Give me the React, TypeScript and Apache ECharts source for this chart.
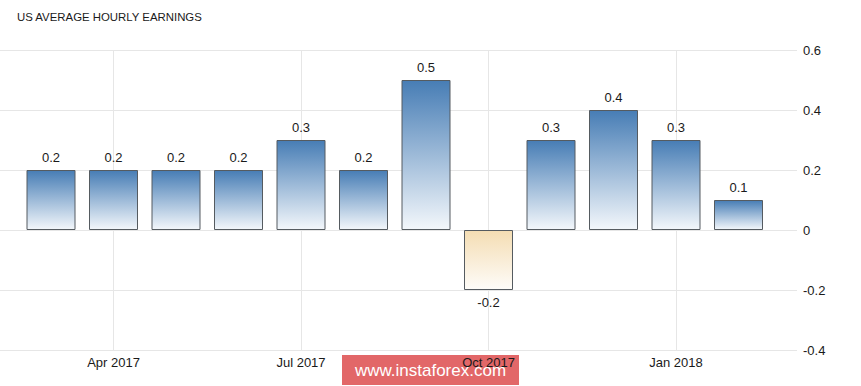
import React, { useEffect, useRef } from "react";
import * as echarts from "echarts";

const categories = [
  "Mar 2017", "Apr 2017", "May 2017", "Jun 2017", "Jul 2017", "Aug 2017",
  "Sep 2017", "Oct 2017", "Nov 2017", "Dec 2017", "Jan 2018", "Feb 2018",
];
const values = [0.2, 0.2, 0.2, 0.2, 0.3, 0.2, 0.5, -0.2, 0.3, 0.4, 0.3, 0.1];
const labeledCategories = ["Apr 2017", "Jul 2017", "Oct 2017", "Jan 2018"];
const yMin = -0.4;
const yMax = 0.6;
const yInterval = 0.2;
const titleText = "US AVERAGE HOURLY EARNINGS";
const watermarkText = "www.instaforex.com";

const FONT = "'Liberation Sans', Arial, sans-serif";

export default function App() {
  const ref = useRef<HTMLDivElement>(null);

  useEffect(() => {
    if (!ref.current) return;
    const chart = echarts.init(ref.current, undefined, { renderer: "svg" });

    const posGrad = new echarts.graphic.LinearGradient(0, 0, 0, 1, [
      { offset: 0, color: "#477db5" },
      { offset: 1, color: "#f3f7fb" },
    ]);
    const negGrad = new echarts.graphic.LinearGradient(0, 0, 0, 1, [
      { offset: 0, color: "#f4ddb3" },
      { offset: 1, color: "#fefcf9" },
    ]);

    const isLabeled = (i: number) => labeledCategories.indexOf(categories[i]) >= 0;

    chart.setOption({
      animation: false,
      backgroundColor: "#ffffff",
      textStyle: { fontFamily: FONT },
      title: {
        text: titleText,
        left: 12,
        top: 6,
        textStyle: { fontFamily: FONT, fontSize: 11.4, fontWeight: "normal", color: "#1a1a1a" },
      },
      grid: [
        { left: 19.75, right: 91.25, top: 50, bottom: 36 },
        { left: 0, right: 64, top: 50, bottom: 36 },
      ],
      xAxis: [
        {
          type: "category",
          gridIndex: 0,
          data: categories,
          boundaryGap: true,
          axisLine: { show: false },
          axisTick: {
            show: true,
            alignWithLabel: true,
            interval: (i: number) => isLabeled(i),
            length: 7,
            lineStyle: { color: "#e6e6e6" },
          },
          splitLine: {
            show: true,
            alignWithLabel: true,
            interval: (i: number) => isLabeled(i),
            lineStyle: { color: "#e6e6e6", width: 1 },
          },
          axisLabel: {
            interval: (i: number) => isLabeled(i),
            color: "#1a1a1a",
            fontSize: 13,
            fontFamily: FONT,
            margin: 6,
          },
        },
        { type: "value", gridIndex: 1, show: false, min: 0, max: 1 },
      ],
      yAxis: [
        { type: "value", gridIndex: 0, show: false, min: yMin, max: yMax, interval: yInterval },
        {
          type: "value",
          gridIndex: 1,
          position: "right",
          min: yMin,
          max: yMax,
          interval: yInterval,
          axisLine: { show: false },
          axisTick: { show: false },
          splitLine: { show: true, lineStyle: { color: "#e6e6e6", width: 1 } },
          axisLabel: {
            color: "#1a1a1a",
            fontSize: 13,
            fontFamily: FONT,
            margin: 6,
            formatter: (v: number) => (Math.abs(v) < 1e-9 ? "0" : v.toFixed(1)),
          },
        },
      ],
      series: [
        {
          type: "bar",
          xAxisIndex: 0,
          yAxisIndex: 0,
          barWidth: 49,
          data: values.map((v) => ({
            value: v,
            itemStyle: {
              color: v >= 0 ? posGrad : negGrad,
              borderColor: "#555b60",
              borderWidth: 1,
            },
            label: { position: v >= 0 ? "top" : "bottom" },
          })),
          label: {
            show: true,
            distance: 6,
            color: "#1a1a1a",
            fontSize: 13,
            fontFamily: FONT,
            formatter: (p: any) => Number(p.value).toFixed(1),
          },
        },
      ],
      graphic: [
        {
          type: "group",
          left: 342,
          top: 355,
          z: 100,
          children: [
            {
              type: "rect",
              shape: { x: 0, y: 0, width: 177, height: 30 },
              style: { fill: "rgba(218, 60, 62, 0.78)" },
            },
            {
              type: "text",
              x: 88.5,
              y: 15,
              style: {
                text: watermarkText,
                fill: "#ffffff",
                font: `17px ${FONT}`,
                align: "center",
                verticalAlign: "middle",
              },
            },
          ],
        },
      ],
    });

    return () => chart.dispose();
  }, []);

  return (
    <div
      ref={ref}
      style={{ position: "absolute", left: 0, top: 0, width: 861, height: 386 }}
    />
  );
}
